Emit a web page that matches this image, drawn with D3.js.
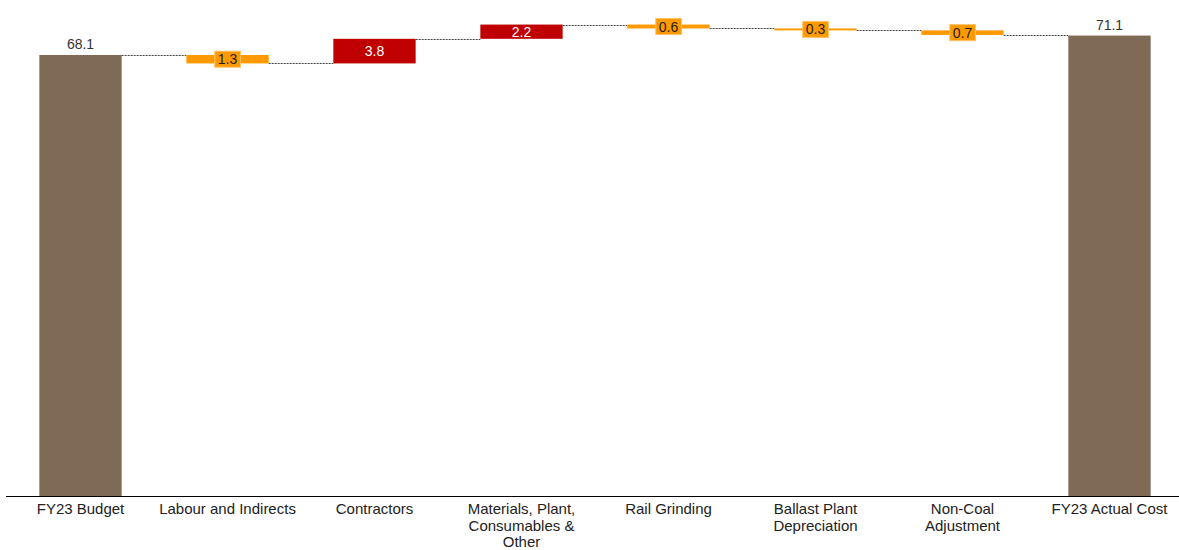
<!DOCTYPE html>
<html>
<head>
<meta charset="utf-8">
<script src="https://cdn.jsdelivr.net/npm/d3@7"></script>
<style>
  body { margin: 0; background: #fff; }
  svg { display: block; font-family: "Liberation Sans", Arial, sans-serif; }
</style>
</head>
<body>
<svg id="chart" width="1179" height="550"></svg>
<script>
// ---- data ----
const categories = [
  "FY23 Budget",
  "Labour and Indirects",
  "Contractors",
  "Materials, Plant,\nConsumables &\nOther",
  "Rail Grinding",
  "Ballast Plant\nDepreciation",
  "Non-Coal\nAdjustment",
  "FY23 Actual Cost"
];
const kinds = ["total", "delta", "delta", "delta", "delta", "delta", "delta", "total"];
const values = [68.1, -1.3, 3.8, 2.2, -0.6, -0.3, -0.7, 71.1];
const valueLabels = ["68.1", "1.3", "3.8", "2.2", "0.6", "0.3", "0.7", "71.1"];

// ---- build waterfall ----
let running = 0;
const rows = categories.map((c, i) => {
  let start, end;
  if (kinds[i] === "total") { start = 0; end = values[i]; running = values[i]; }
  else { start = running; end = running + values[i]; running = end; }
  return { cat: c, kind: kinds[i], value: values[i], label: valueLabels[i], start, end };
});

const colors = { total: "#7F6A56", up: "#C00000", down: "#FF9900" };

const svg = d3.select("#chart");
const x = d3.scaleBand().domain(categories).range([7, 1183]).paddingInner(0.44).paddingOuter(0.22);
const y = d3.scaleLinear().domain([0, 75]).range([496, 496 - 75 * 441 / 68.1]);

// connectors
const conn = svg.append("g");
rows.forEach((d, i) => {
  if (i === rows.length - 1) return;
  const lvl = d.end;
  conn.append("line")
    .attr("x1", x(d.cat) + x.bandwidth())
    .attr("x2", x(categories[i + 1]))
    .attr("y1", Math.round(y(lvl)) + 0.5)
    .attr("y2", Math.round(y(lvl)) + 0.5)
    .attr("stroke", "#444")
    .attr("stroke-width", 1)
    .attr("stroke-dasharray", "2,1");
});

// bars
svg.append("g").selectAll("rect").data(rows).join("rect")
  .attr("x", d => x(d.cat))
  .attr("width", x.bandwidth())
  .attr("y", d => y(Math.max(d.start, d.end)))
  .attr("height", d => Math.max(1.5, Math.abs(y(d.start) - y(d.end))))
  .attr("fill", d => d.kind === "total" ? colors.total : (d.value > 0 ? colors.up : colors.down));

// value labels
const lab = svg.append("g");
rows.forEach(d => {
  const cx = x(d.cat) + x.bandwidth() / 2;
  if (d.kind === "total") {
    lab.append("text").attr("x", cx).attr("y", y(d.end) - 6)
      .attr("text-anchor", "middle").attr("font-size", 14).attr("fill", "#333").text(d.label);
  } else {
    const cy = (y(d.start) + y(d.end)) / 2;
    if (d.value > 0) {
      lab.append("text").attr("x", cx).attr("y", cy).attr("dy", "0.36em")
        .attr("text-anchor", "middle").attr("font-size", 14).attr("fill", "#fff").text(d.label);
    } else {
      const g = lab.append("g");
      const t = g.append("text").attr("x", cx).attr("y", cy).attr("dy", "0.36em")
        .attr("text-anchor", "middle").attr("font-size", 14).attr("fill", "#222").text(d.label);
      const bb = t.node().getBBox();
      g.insert("rect", "text")
        .attr("x", bb.x - 3).attr("y", cy - 8)
        .attr("width", bb.width + 6).attr("height", 16)
        .attr("fill", colors.down).attr("stroke", "#FFC266").attr("stroke-width", 1);
    }
  }
});

// axis
const ax = svg.append("g").attr("transform", "translate(0,496)")
  .call(d3.axisBottom(x).tickSize(0).tickPadding(0));
ax.select(".domain").attr("d", "M6,0.5H1179").attr("stroke", "#000").attr("stroke-width", 1.2);
ax.selectAll(".tick text").each(function(d) {
  const t = d3.select(this);
  t.text(null).attr("y", 0).attr("dy", null)
    .attr("font-size", 15).attr("fill", "#222").attr("font-family", "Liberation Sans, Arial, sans-serif");
  d.split("\n").forEach((ln, i) => {
    t.append("tspan").attr("x", 0).attr("y", 18 + i * 16.5).text(ln);
  });
});
</script>
</body>
</html>
